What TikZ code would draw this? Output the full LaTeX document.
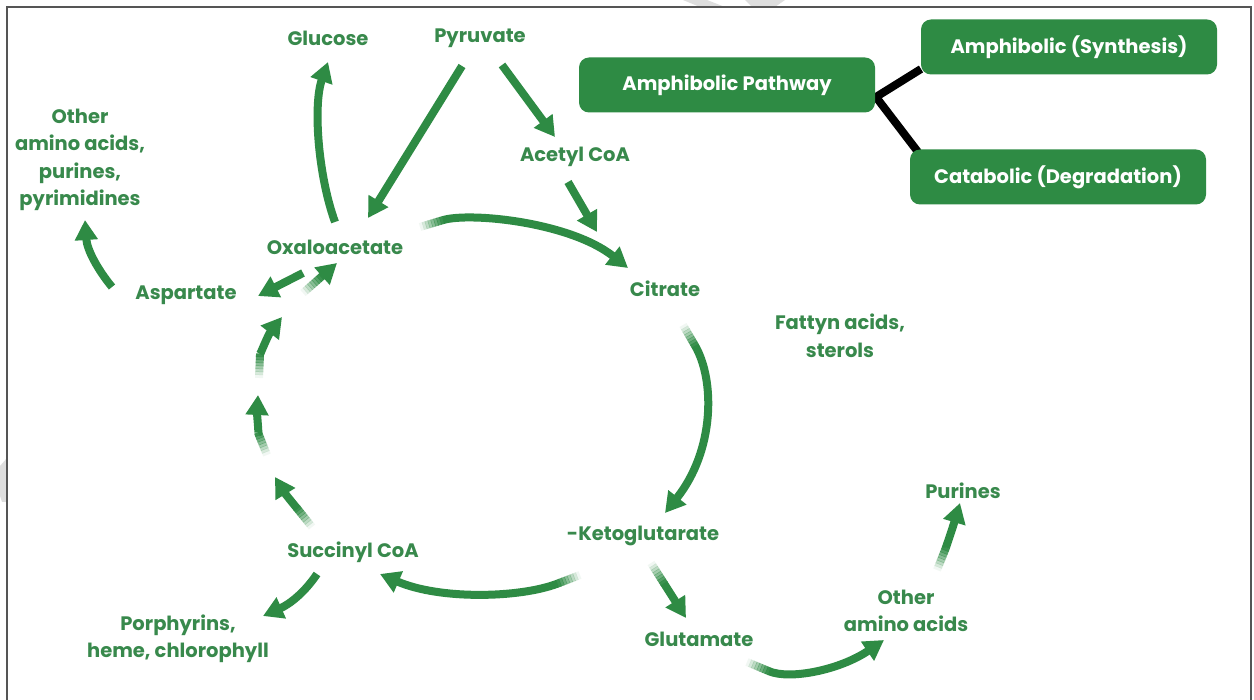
\documentclass[tikz,border=0pt]{standalone}
\usepackage{fontspec}
\setmainfont{Poppins}
\usetikzlibrary{arrows.meta,calc}
\definecolor{gr}{RGB}{46,139,68}
\definecolor{txt}{RGB}{56,137,76}
\definecolor{wm}{RGB}{222,222,222}
% #1 start, #2 point giving the start direction, #3 rest of the path
\newcommand\fadearrow[3]{%
  \draw[arr,shorten <=24pt] #1 #3;%
  \foreach \i in {0,...,7}{%
    \pgfmathsetmacro\fa{(\i+0.5)/8}%
    \pgfmathsetmacro\da{\i*3}%
    \pgfmathsetmacro\db{\i*3+3.5}%
    \draw[draw=gr,line width=8pt,draw opacity=\fa] ($#1!\da pt!#2$) -- ($#1!\db pt!#2$);}}
\begin{document}
\begin{tikzpicture}[x=1pt,y=-1pt,
  lbl/.style={text=txt,font=\fontsize{19.5}{27.5}\selectfont\bfseries,align=center,inner sep=0pt},
  box/.style={fill=gr,rounded corners=10pt,text=white,font=\fontsize{19.5}{22}\selectfont\bfseries,
    minimum width=296pt,minimum height=55pt,inner sep=0pt},
  arr/.style={draw=gr,line width=8pt,-{Triangle[length=20pt,width=22pt]}},
  link/.style={draw=black,line width=8pt,line join=miter}]
\useasboundingbox (0,0) rectangle (1254,700);
\fill[white] (0,0) rectangle (1254,700);
% watermark slivers
\fill[wm] (683,0) -- (707,0) -- (725,7) -- (700,7) -- cycle;
\fill[wm] (745,0) -- (785,0) -- (775,7) -- (752,7) -- cycle;
\fill[wm] (7,458) -- (7,502) -- (2,502) -- (0,496) -- (0,466) -- cycle;
% frame
\draw[draw={rgb,255:red,85;green,85;blue,85},line width=2pt] (7,700) -- (7,7) -- (1251,7) -- (1251,700);

% labels
\node[lbl] (glu) at (328,38) {Glucose};
\node[lbl] (pyr) at (480,38) {Pyruvate};
\node[lbl] (oal) at (80,160) {Other\\amino acids,\\purines,\\pyrimidines};
\node[lbl] (asp) at (186,295) {Aspartate};
\node[lbl] (oxa) at (335,247) {Oxaloacetate};
\node[lbl] (acc) at (575,157) {Acetyl CoA};
\node[lbl] (cit) at (665,289) {Citrate};
\node[lbl] (fat) at (840,336) {Fattyn acids,\\sterols};
\node[lbl] (kg) at (643,536) {-Ketoglutarate};
\node[lbl] (suc) at (353,552) {Succinyl CoA};
\node[lbl] (por) at (178,639) {Porphyrins,\\heme, chlorophyll};
\node[lbl] (glt) at (699,639) {Glutamate};
\node[lbl] (oar) at (906,611) {Other\\amino acids};
\node[lbl] (pur) at (963,491) {Purines};

% legend boxes
\coordinate (jn) at (876,97);
\draw[link] (921,69) coordinate (synend) -- (jn) -- (918,152) coordinate (catend);
\node[box] (ap) at (727,85) {Amphibolic Pathway};
\node[box] (syn) at (1069,47) {Amphibolic (Synthesis)};
\node[box] (cat) at (1058,177) {Catabolic (Degradation)};

% plain arrows
\draw[arr] ([shift={(0,-25)}]oxa.center) .. controls (318,175) and (313,105) .. ([shift={(0,24)}]glu.center);
\draw[arr] ([shift={(-18,28)}]pyr.center) -- ([shift={(33,-29)}]oxa.center);
\draw[arr] ([shift={(22,27)}]pyr.center) -- ([shift={(-20,-20)}]acc.center);
\draw[arr] ([shift={(-7,25)}]acc.center) -- ([shift={(-68,-57)}]cit.center);
\draw[arr] ([shift={(-32,26)}]oxa.center) -- ([shift={(72,1)}]asp.center);
\draw[arr] ([shift={(-74,-8)}]asp.center) .. controls (98,270) and (87,250) .. ([shift={(5,60)}]oal.center);
\draw[arr] ([shift={(-36,22)}]suc.center) .. controls (305,592) and (290,604) .. ([shift={(85,-23)}]por.center);

% faded arrows
\fadearrow{([shift={(-32,46)}]oxa.center)}{([shift={(2,16)}]oxa.center)}{-- ([shift={(2,16)}]oxa.center)}
\fadearrow{([shift={(85,-20)}]oxa.center)}{(470,212)}{.. controls (470,212) and (570,222) .. ([shift={(-37,-21)}]cit.center)}
\fadearrow{([shift={(18,36)}]cit.center)}{(715,380)}{.. controls (715,380) and (715,450) .. ([shift={(22,-23)}]kg.center)}
\fadearrow{([shift={(-63,39)}]kg.center)}{(520,598)}{.. controls (520,598) and (440,600) .. ([shift={(27,22)}]suc.center)}
\fadearrow{([shift={(8,27)}]kg.center)}{([shift={(-13,-21)}]glt.center)}{-- ([shift={(-13,-21)}]glt.center)}
\fadearrow{([shift={(48,23)}]glt.center)}{(790,680)}{.. controls (790,680) and (840,670) .. ([shift={(-22,29)}]oar.center)}
\fadearrow{([shift={(31,-41)}]oar.center)}{(945,550)}{.. controls (945,550) and (952,530) .. ([shift={(-3,12)}]pur.center)}
\fadearrow{([shift={(-41,-25)}]suc.center)}{(300,512)}{.. controls (300,512) and (286,495) .. ([shift={(-78,-75)}]suc.center)}
\fadearrow{([shift={(-86,-97)}]suc.center)}{(259,435)}{.. controls (259,435) and (257,415) .. ([shift={(-77,148)}]oxa.center)}
\fadearrow{([shift={(-76,131)}]oxa.center)}{(260,355)}{.. controls (260,355) and (268,335) .. ([shift={(-53,70)}]oxa.center)}
\end{tikzpicture}
\end{document}
